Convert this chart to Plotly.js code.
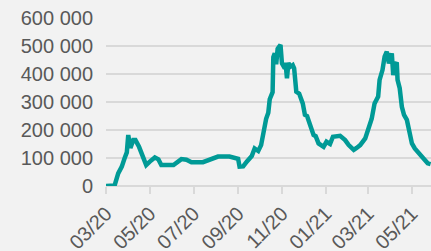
<!DOCTYPE html>
<html><head><meta charset="utf-8">
<script src="https://cdn.plot.ly/plotly-3.0.1.min.js"></script>
<style>html,body{margin:0;padding:0;background:#f2f2f2;}#chart{width:431px;height:251px;}</style>
</head><body><div id="chart"></div>
<script>
const dates = ['2020-03-01','2020-03-13','2020-03-18','2020-03-20','2020-03-23','2020-03-27','2020-03-30','2020-04-01','2020-04-04','2020-04-08','2020-04-11','2020-04-16','2020-04-21','2020-04-26','2020-05-01','2020-05-08','2020-05-13','2020-05-17','2020-06-03','2020-06-14','2020-06-21','2020-06-28','2020-07-14','2020-07-24','2020-08-04','2020-08-20','2020-08-27','2020-09-01','2020-09-03','2020-09-08','2020-09-13','2020-09-20','2020-09-24','2020-09-29','2020-10-03','2020-10-06','2020-10-10','2020-10-13','2020-10-15','2020-10-19','2020-10-20','2020-10-22','2020-10-24','2020-10-26','2020-10-30','2020-11-01','2020-11-05','2020-11-06','2020-11-08','2020-11-10','2020-11-12','2020-11-16','2020-11-18','2020-11-21','2020-11-25','2020-11-30','2020-12-03','2020-12-06','2020-12-11','2020-12-15','2020-12-18','2020-12-22','2020-12-29','2021-01-02','2021-01-07','2021-01-11','2021-01-21','2021-01-28','2021-02-02','2021-02-09','2021-02-13','2021-02-18','2021-02-25','2021-03-01','2021-03-06','2021-03-10','2021-03-15','2021-03-17','2021-03-21','2021-03-24','2021-03-27','2021-03-30','2021-04-03','2021-04-05','2021-04-07','2021-04-10','2021-04-11','2021-04-14','2021-04-17','2021-04-20','2021-04-24','2021-04-27','2021-05-01','2021-05-05','2021-05-10','2021-05-14','2021-05-19','2021-05-23','2021-05-27'];
const values = [0,2000,45000,52000,69000,100000,120000,182000,136000,164000,164000,140000,105000,75000,87000,102000,95000,75000,75000,96000,94000,85000,85000,93000,105000,105000,99000,97000,69000,70000,87000,107000,134000,125000,146000,190000,240000,262000,310000,335000,460000,474000,435000,490000,504000,438000,420000,440000,385000,440000,425000,432000,420000,337000,330000,295000,254000,250000,218000,182000,178000,152000,140000,158000,150000,176000,179000,164000,146000,129000,136000,146000,170000,200000,240000,295000,319000,379000,414000,462000,480000,438000,474000,396000,438000,436000,379000,349000,283000,254000,236000,200000,152000,134000,117000,105000,93000,81000,78000];
const yTickVals = [0,100000,200000,300000,400000,500000,600000];
const yTickText = ['0','100 000','200 000','300 000','400 000','500 000','600 000'];

const font = {family:'Liberation Sans, Arial, sans-serif', size:20, color:'#595959'};
Plotly.newPlot('chart', [{
  x: dates, y: values, type:'scatter', mode:'lines',
  line:{color:'#009a96', width:4.5}, hoverinfo:'skip'
}], {
  width:431, height:251,
  margin:{l:106, r:0, t:18, b:65, pad:0},
  paper_bgcolor:'#f2f2f2', plot_bgcolor:'#f2f2f2',
  showlegend:false,
  font: font,
  xaxis:{
    type:'date', range:['2020-03-01','2021-05-27 14:00'],
    tick0:'2020-03-01', dtick:'M2', tickformat:'%m/%y', tickangle:-45,
    showgrid:false, zeroline:false, showline:false,
    ticks:'outside', ticklen:7, tickwidth:2, tickcolor:'#d9d9d9',
    tickfont:font
  },
  yaxis:{
    range:[0,600000], tickvals:yTickVals, ticktext:yTickText,
    showgrid:true, gridcolor:'#d9d9d9', gridwidth:2,
    zeroline:true, zerolinecolor:'#d9d9d9', zerolinewidth:2,
    showline:false, ticks:'', ticklabelstandoff:12,
    tickfont:font
  }
}, {staticPlot:true, displayModeBar:false});
</script></body></html>
